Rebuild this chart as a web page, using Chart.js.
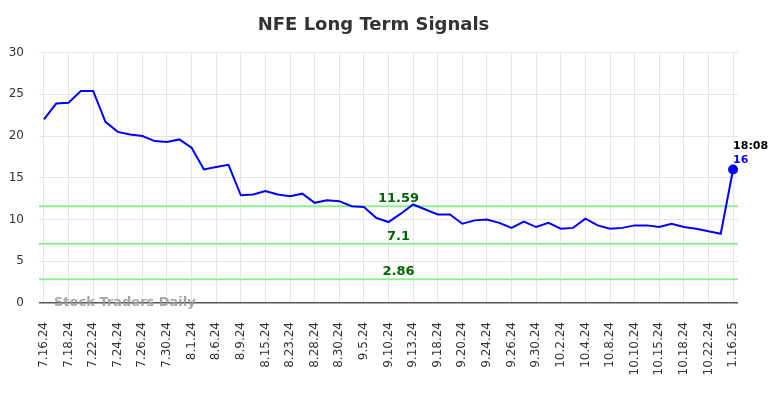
<!DOCTYPE html>
<html>
<head>
<meta charset="utf-8">
<script src="https://cdn.jsdelivr.net/npm/chart.js@4.4.0/dist/chart.umd.min.js"></script>
<style>
html,body{margin:0;padding:0;background:#fff;}
#wrap{width:784px;height:398px;position:relative;}
</style>
</head>
<body>
<div id="wrap"><canvas id="c" width="784" height="398"></canvas></div>
<script>
const tickLabels = ["7.16.24","7.18.24","7.22.24","7.24.24","7.26.24","7.30.24","8.1.24","8.6.24","8.9.24","8.15.24","8.23.24","8.28.24","8.30.24","9.5.24","9.10.24","9.13.24","9.18.24","9.20.24","9.24.24","9.26.24","9.30.24","10.2.24","10.4.24","10.8.24","10.10.24","10.15.24","10.18.24","10.22.24","1.16.25"];
const signalValues = [22.0,23.9,24.0,25.4,25.4,21.7,20.5,20.2,20.0,19.4,19.3,19.6,18.6,16.0,16.3,16.55,12.9,13.0,13.4,13.0,12.8,13.1,12.0,12.3,12.2,11.6,11.5,10.2,9.7,10.7,11.8,11.2,10.6,10.6,9.5,9.9,10.0,9.6,9.0,9.75,9.1,9.6,8.9,9.0,10.1,9.3,8.9,9.0,9.3,9.3,9.1,9.5,9.1,8.9,8.6,8.3,16.0];
const levelValues = [11.59, 7.1, 2.86];
const levelLabels = ["11.59", "7.1", "2.86"];
const lastTime = "18:08";
const lastLabel = "16";
const yTicks = [0,5,10,15,20,25,30];

const pointsPerTick = (signalValues.length - 1) / (tickLabels.length - 1);
const points = signalValues.map((v, i) => ({x: i / pointsPerTick, y: v}));
const lastIdx = points.length - 1;

const overlay = {
  id: 'overlay',
  beforeDatasetsDraw(chart) {
    const {ctx, chartArea, scales} = chart;
    ctx.save();
    ctx.strokeStyle = '#90EE90';
    ctx.lineWidth = 2;
    levelValues.forEach(v => {
      const y = scales.y.getPixelForValue(v);
      ctx.beginPath();
      ctx.moveTo(chartArea.left, y);
      ctx.lineTo(chartArea.right, y);
      ctx.stroke();
    });
    ctx.restore();
  },
  afterDatasetsDraw(chart) {
    const {ctx, chartArea, scales} = chart;
    ctx.save();
    ctx.font = 'bold 13px "DejaVu Sans"';
    ctx.fillStyle = '#006400';
    ctx.textAlign = 'center';
    ctx.textBaseline = 'bottom';
    const cx = (chartArea.left + chartArea.right) / 2 + 10;
    levelValues.forEach((v, i) => {
      const y = scales.y.getPixelForValue(v);
      ctx.fillText(levelLabels[i], cx, y - 1);
    });
    // watermark
    ctx.font = 'bold 13px "DejaVu Sans"';
    ctx.fillStyle = 'rgba(150,150,150,0.85)';
    ctx.textAlign = 'left';
    ctx.textBaseline = 'middle';
    ctx.fillText('Stock Traders Daily', chartArea.left + 15, scales.y.getPixelForValue(0));
    // last point labels
    const px = scales.x.getPixelForValue(points[lastIdx].x);
    const py = scales.y.getPixelForValue(points[lastIdx].y);
    ctx.textAlign = 'left';
    ctx.textBaseline = 'alphabetic';
    ctx.font = 'bold 11px "DejaVu Sans"';
    ctx.fillStyle = '#000';
    ctx.fillText(lastTime, px, py - 20);
    ctx.fillStyle = '#0000FF';
    ctx.fillText(lastLabel, px, py - 6);
    ctx.restore();
  }
};

new Chart(document.getElementById('c'), {
  type: 'line',
  data: {
    datasets: [{
      data: points,
      borderColor: '#0000FF',
      backgroundColor: '#0000FF',
      borderWidth: 2,
      tension: 0,
      pointRadius: points.map((p, i) => i === lastIdx ? 4 : 0),
      pointHoverRadius: 0
    }]
  },
  options: {
    responsive: false,
    animation: false,
    devicePixelRatio: 1,
    layout: {padding: {left: 9, right: 46, top: 0, bottom: 0}},
    plugins: {
      legend: {display: false},
      tooltip: {enabled: false},
      title: {
        display: true,
        text: 'NFE Long Term Signals',
        color: '#333',
        font: {family: 'DejaVu Sans', size: 18, weight: 'bold'},
        padding: {top: 15, bottom: 16}
      }
    },
    scales: {
      x: {
        type: 'linear',
        min: -0.2,
        max: tickLabels.length - 1 + 0.2,
        afterBuildTicks: axis => { axis.ticks = tickLabels.map((_, i) => ({value: i})); },
        afterFit: axis => { axis.height = 95; },
        ticks: {
          autoSkip: false,
          maxRotation: 90,
          minRotation: 90,
          color: '#333',
          padding: 19,
          font: {family: 'DejaVu Sans', size: 12},
          callback: v => tickLabels[v]
        },
        grid: {color: '#e6e6e6', drawTicks: false},
        border: {display: false}
      },
      y: {
        min: 0,
        max: 30,
        afterBuildTicks: axis => { axis.ticks = yTicks.map(v => ({value: v})); },
        afterFit: axis => { axis.width = 30; },
        ticks: {
          color: '#333',
          font: {family: 'DejaVu Sans', size: 12},
          padding: 15
        },
        grid: {
          color: ctx => ctx.tick && ctx.tick.value === 0 ? '#555' : '#e6e6e6',
          lineWidth: ctx => ctx.tick && ctx.tick.value === 0 ? 1.5 : 1,
          drawTicks: false
        },
        border: {display: false}
      }
    }
  },
  plugins: [overlay]
});
</script>
</body>
</html>
